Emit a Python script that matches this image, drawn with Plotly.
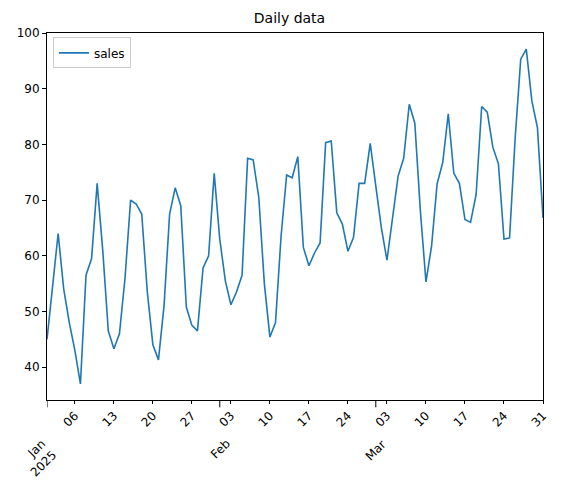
import pandas as pd
import plotly.graph_objects as go

dates = pd.date_range("2025-01-01", "2025-03-31", freq="D")
sales = [45, 55, 64, 54, 48, 43, 37, 56.5, 59.5, 73, 61, 46.5, 43.3, 46, 56, 70, 69.3, 67.5, 53.5, 44,
         41.3, 51, 67.5, 72.2, 69, 50.8, 47.5, 46.5, 57.8, 60, 74.8, 63, 55.5, 51.2, 53.5, 56.5, 77.5, 77.2,
         70.5, 55, 45.4, 48, 63.5, 74.5, 74, 77.8, 61.5, 58.2, 60.5, 62.3, 80.3, 80.6, 67.7, 65.7, 60.8,
         63.3, 73, 73, 80.2, 72.5, 65, 59.2, 66.8, 74.3, 77.5, 87.2, 83.8, 68, 55.3, 61.7, 72.9, 76.7,
         85.5, 74.8, 73, 66.5, 66, 71, 86.8, 85.8, 79.5, 76.5, 63, 63.2, 81, 95.3, 97.1, 87.8, 83, 66.8]

minor_dates = ["2025-01-06", "2025-01-13", "2025-01-20", "2025-01-27", "2025-02-03", "2025-02-10",
               "2025-02-17", "2025-02-24", "2025-03-03", "2025-03-10", "2025-03-17", "2025-03-24",
               "2025-03-31"]
minor_text = ["06", "13", "20", "27", "03", "10", "17", "24", "03", "10", "17", "24", "31"]
month_dates = ["2025-01-01", "2025-02-01", "2025-03-01"]
month_text = ["Jan<br>2025", "Feb", "Mar"]

fig = go.Figure(go.Scatter(x=dates, y=sales, mode="lines", name="sales",
                           line=dict(color="#1f77b4", width=1.6)))
axis_common = dict(showgrid=False, zeroline=False, showline=True, linecolor="black", mirror=True,
                   ticks="outside", tickcolor="black", tickfont=dict(size=12, color="black"),
                   automargin=False)
for d, t in zip(month_dates, month_text):
    fig.add_annotation(x=d, xref="x", y=0, yref="paper", text=t, showarrow=False, textangle=-45,
                       xanchor="right", yanchor="top", yshift=-34, xshift=16,
                       font=dict(size=12, color="black"), align="right")
    fig.add_shape(type="line", x0=d, x1=d, xref="x", y0=0, y1=-0.02, yref="paper",
                  line=dict(color="black", width=1))
fig.update_layout(
    width=563, height=493, plot_bgcolor="white", paper_bgcolor="white",
    margin=dict(l=39, r=28, t=25, b=101),
    font=dict(family="DejaVu Sans", color="black"),
    title=dict(text="Daily data", x=0.5, xanchor="center", y=0.99, yanchor="top", font=dict(size=14)),
    showlegend=True,
    legend=dict(x=0.012, y=0.988, xanchor="left", yanchor="top", bordercolor="#cccccc", borderwidth=1,
                font=dict(size=12), bgcolor="white", itemwidth=30),
    xaxis=dict(range=["2025-01-01", "2025-03-31"], tickvals=minor_dates, ticktext=minor_text,
               tickangle=-45, ticklen=3, **axis_common),
    yaxis=dict(range=[34.1, 100], tickvals=[40, 50, 60, 70, 80, 90, 100], ticklen=4, **axis_common),
)
fig.write_html("out.html")
